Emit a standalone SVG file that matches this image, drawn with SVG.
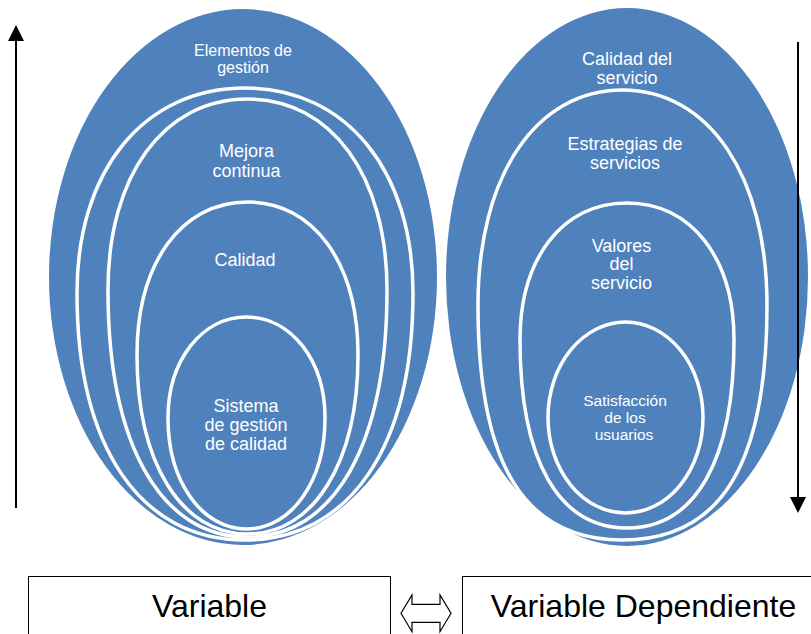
<svg xmlns="http://www.w3.org/2000/svg" width="811" height="634" viewBox="0 0 811 634">
<style>
.bg{fill:#4F81BD;}
.ring{fill:#4F81BD;stroke:#FFFFFF;stroke-width:3.5;}
.t{font-family:"Liberation Sans",Arial,sans-serif;fill:#FFFFFF;text-anchor:middle;font-size:18px;}
.ts{font-size:16px;}
.to{font-size:15.5px;}
.box{fill:#FFFFFF;stroke:#000000;stroke-width:1;}
.bt{font-family:"Liberation Sans",Arial,sans-serif;fill:#000000;text-anchor:middle;font-size:32px;}
.arr{stroke:#000000;stroke-width:2;fill:none;marker-end:url(#ah);}
</style>
<defs>
<marker id="ah" viewBox="0 0 16 16" refX="0" refY="8" markerWidth="16" markerHeight="16" markerUnits="userSpaceOnUse" orient="auto">
<path d="M0,0 L16,8 L0,16 Z" fill="#000000"/>
</marker>
</defs>
<rect width="811" height="634" fill="#FFFFFF"/>

<g id="left-group">
<g id="elementos-de-gestion">
<ellipse class="bg" cx="243" cy="277" rx="194" ry="268"/>
<text class="t ts" x="243" y="56">Elementos de</text>
<text class="t ts" x="243" y="72.5">gestión</text>
</g>
<g id="ring-left-2">
<path class="ring" d="M77,293 C77,170 144.2,88 245,88 C345.8,88 413,170 413,293 C413,448 349,540 245,540 C141,540 77,448 77,293Z"/>
</g>
<g id="mejora-continua">
<path class="ring" d="M108,290 C108,175.4 163.8,99 247.5,99 C331.2,99 387,175.4 387,290 C387,445 334,537 247.5,537 C161,537 108,445 108,290Z"/>
<text class="t" x="246.5" y="157">Mejora</text>
<text class="t" x="246.5" y="177">continua</text>
</g>
<g id="calidad">
<path class="ring" d="M137,355 C137,263.2 181.2,202 247.5,202 C313.8,202 358,263.2 358,355 C358,462.4 313.8,534 247.5,534 C181.2,534 137,462.4 137,355Z"/>
<text class="t" x="245" y="266">Calidad</text>
</g>
<g id="sistema-gestion-calidad">
<path class="ring" d="M168,418 C168,360.4 201.8,317 246.5,317 C291.2,317 325,360.4 325,418 C325,481.3 291.2,529 246.5,529 C201.8,529 168,481.3 168,418Z"/>
<text class="t" x="246" y="412">Sistema</text>
<text class="t" x="246" y="431">de gestión</text>
<text class="t" x="246" y="450">de calidad</text>
</g>
</g>

<g id="right-group">
<g id="calidad-del-servicio">
<ellipse class="bg" cx="627" cy="277" rx="181" ry="269"/>
<text class="t" x="627" y="65">Calidad del</text>
<text class="t" x="627" y="83.5">servicio</text>
</g>
<g id="estrategias-de-servicios">
<path class="ring" d="M478,305 C478,176 535.8,90 622.5,90 C709.2,90 767,176 767,305 C767,464.8 720.8,540 622.5,540 C524.2,540 478,464.8 478,305Z"/>
<text class="t" x="625" y="150">Estrategias de</text>
<text class="t" x="625" y="168.5">servicios</text>
</g>
<g id="valores-del-servicio">
<path class="ring" d="M520,340 C520,257.8 562.8,203 627,203 C691.2,203 734,257.8 734,340 C734,460.3 695.5,528 627,528 C558.5,528 520,460.3 520,340Z"/>
<text class="t" x="621.5" y="251.5">Valores</text>
<text class="t" x="621.5" y="270">del</text>
<text class="t" x="621.5" y="288.5">servicio</text>
</g>
<g id="satisfaccion-usuarios">
<ellipse class="ring" cx="625.5" cy="417.5" rx="77.5" ry="95.5"/>
<text class="t to" x="625" y="406">Satisfacción</text>
<text class="t to" x="625" y="423">de los</text>
<text class="t to" x="624" y="440">usuarios</text>
</g>
</g>

<g id="connectors">
<line class="arr" x1="16" y1="508" x2="16" y2="41"/>
<line class="arr" x1="798" y1="42" x2="798" y2="497"/>
<polygon id="double-arrow" points="401,613.3 412,595 412,604.3 440,604.3 440,595 451,613.3 440,631.7 440,622.3 412,622.3 412,631.7" fill="#FFFFFF" stroke="#000000" stroke-width="1.2"/>
</g>

<g id="box-variable">
<rect class="box" x="28.5" y="576.5" width="362" height="80"/>
<text class="bt" x="209.5" y="617">Variable</text>
</g>
<g id="box-variable-dependiente">
<rect class="box" x="462.5" y="576.5" width="370" height="80"/>
<text class="bt" x="643.5" y="617">Variable Dependiente</text>
</g>
</svg>
